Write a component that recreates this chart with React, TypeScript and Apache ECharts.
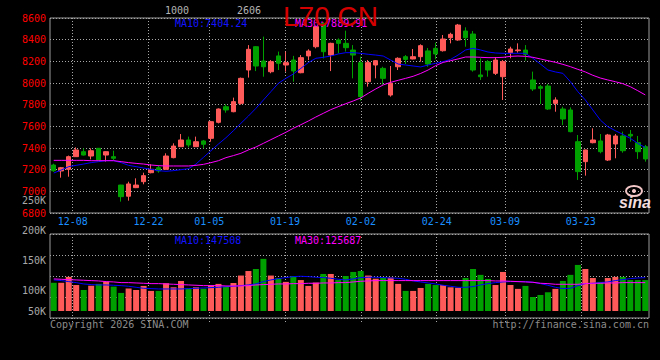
import React, { useEffect, useRef } from "react";
import * as echarts from "echarts";

const dates = [
  "12-03","12-04","12-05","12-08","12-09","12-10","12-11","12-12","12-15","12-16",
  "12-17","12-18","12-19","12-22","12-23","12-24","12-25","12-26","12-29","12-30",
  "12-31","01-05","01-06","01-07","01-08","01-09","01-12","01-13","01-14","01-15",
  "01-16","01-19","01-20","01-21","01-22","01-23","01-26","01-27","01-28","01-29",
  "01-30","02-02","02-03","02-04","02-05","02-06","02-09","02-10","02-11","02-12",
  "02-13","02-24","02-25","02-26","02-27","03-02","03-03","03-04","03-05","03-06",
  "03-09","03-10","03-11","03-12","03-13","03-16","03-17","03-18","03-19","03-20",
  "03-23","03-24","03-25","03-26","03-27","03-30","03-31","04-01","04-02","04-03",
];
const dateLabelIdx = [3, 13, 21, 31, 41, 51, 60, 70];

const opens = [
  7243,7188,7203,7320,7366,7326,7397,7335,7320,7058,6955,7034,7089,7172,7218,7203,7311,7412,7474,7412,
  7465,7489,7637,7781,7735,7812,8120,8335,8203,8104,8250,8166,8212,8095,8250,8335,8550,8258,8397,8366,
  8304,8188,8012,8166,8135,7889,8150,8243,8222,8243,8296,8320,8298,8418,8397,8480,8452,8074,8197,8089,
  8058,8280,8298,8304,8028,7966,7972,7812,7760,7751,7458,7274,7449,7465,7289,7437,7511,7526,7449,7412,
];
const closes = [
  7190,7218,7320,7382,7335,7375,7289,7366,7305,6951,7068,7058,7145,7203,7188,7326,7418,7474,7428,7458,
  7434,7643,7760,7751,7828,8043,8311,8157,8150,8197,8182,8188,8111,8234,8295,8520,8289,8366,8366,8326,
  8258,7874,8188,8206,8043,7997,8228,8218,8243,8345,8175,8268,8406,8449,8535,8418,8120,8058,8120,8212,
  8197,8314,8305,8264,7945,7951,7760,7843,7668,7551,7182,7382,7474,7366,7520,7511,7375,7511,7366,7299,
];
const lows = [
  7180,7126,7135,7318,7330,7295,7285,7274,7289,6905,6914,7030,7065,7166,7172,7200,7305,7410,7406,7410,
  7397,7458,7627,7726,7730,7800,8050,8110,8058,8090,8120,8105,8012,8090,8212,8320,8227,8110,8274,8290,
  8043,7837,7966,8043,7982,7874,8120,8175,8218,8197,8150,8219,8290,8366,8390,8335,8105,8028,8058,8074,
  7843,8228,8280,8206,7926,7806,7751,7735,7612,7545,7105,7145,7443,7351,7280,7305,7357,7458,7299,7274,
];
const highs = [
  7255,7225,7330,7406,7397,7397,7400,7370,7375,7060,7089,7120,7172,7249,7243,7351,7443,7529,7505,7505,
  7474,7650,7765,7803,7865,8050,8350,8341,8428,8212,8290,8290,8250,8258,8311,8530,8560,8372,8412,8483,
  8350,8243,8212,8212,8150,8157,8237,8258,8314,8357,8323,8372,8443,8464,8545,8514,8480,8228,8212,8240,
  8212,8335,8366,8350,8105,7982,7991,7868,7781,7775,7520,7385,7582,7529,7530,7529,7551,7566,7511,7428,
];
const ma10 = [
  7169,7197,7228,7240,7252,7265,7274,7283,7283,7265,7240,7228,7215,7203,7191,7185,7191,7200,7209,7252,
  7314,7375,7437,7495,7560,7628,7695,7766,7843,7920,7997,8043,8083,8135,8188,8228,8237,8249,8268,8280,
  8280,8274,8265,8258,8249,8212,8175,8166,8157,8148,8166,8182,8197,8218,8258,8305,8320,8305,8286,8277,
  8274,8274,8274,8274,8228,8175,8120,8102,8089,8012,7920,7843,7751,7658,7597,7560,7526,7489,7443,7404,
];
const ma30 = [
  7286,7286,7286,7286,7286,7283,7283,7283,7283,7274,7265,7258,7252,7243,7237,7234,7234,7234,7234,7240,
  7249,7265,7283,7311,7330,7351,7382,7409,7443,7477,7511,7545,7582,7615,7649,7686,7720,7754,7782,7809,
  7834,7862,7905,7945,7982,8006,8025,8043,8062,8088,8120,8160,8190,8206,8222,8240,8240,8237,8234,8234,
  8237,8246,8249,8246,8237,8222,8206,8191,8172,8151,8126,8102,8071,8046,8028,8012,7994,7966,7929,7890,
];
const volumes = [
  125000,125000,151000,115000,93000,112000,120000,130000,108000,80000,
  100000,93000,111000,89000,89000,123000,105000,133000,100000,105000,
  99000,114000,120000,108000,124000,157000,177000,186000,231000,157000,
  145000,129000,155000,137000,111000,126000,164000,164000,137000,155000,
  173000,177000,157000,143000,148000,148000,120000,89000,89000,102000,
  120000,115000,115000,105000,103000,146000,186000,160000,142000,115000,
  173000,115000,98000,111000,62000,71000,83000,98000,133000,160000,
  204000,186000,146000,129000,146000,151000,151000,137000,137000,137000,
];
const volMa10 = [
  137500,134600,130200,125700,119800,116900,115400,115400,113900,112400,
  109500,105000,100600,99100,97600,97600,97600,97600,99100,100600,
  102100,103600,105000,108000,109500,112400,115400,119800,130200,137500,
  143400,147900,152300,153800,152300,149400,147900,144900,140500,137500,
  142000,147900,149400,149400,147900,146400,144900,140500,133100,128700,
  124200,119800,113900,109500,105000,105000,108000,115400,121300,125700,
  128700,130200,130200,130200,127200,121300,113900,105000,99100,100600,
  112400,121300,122800,125700,128700,134600,139000,143400,146400,147508,
];
const volMa30 = [
  142000,140500,139000,137500,136100,134600,133100,130200,128700,125700,
  125700,124200,122800,121300,121300,119800,118300,116900,115400,113900,
  112400,112400,112400,110900,110900,110900,112400,115400,116900,118300,
  119800,119800,121300,121300,122800,122800,124200,124200,125700,125700,
  128700,131600,133100,134600,134600,134600,134600,134600,134600,134600,
  134600,134600,134600,134600,134600,134600,134600,134600,134600,133100,
  133100,131600,130200,128700,127200,122800,121300,118300,118300,118300,
  118300,121300,122800,122800,124200,124200,125700,125700,125700,125687,
];

const priceMin = 6800;
const priceMax = 8600;
const priceStep = 200;
const volLabelMin = 50000;
const volLabelMax = 250000;
const volLabelStep = 50000;
const volAxisMax = 341000;

const title = "L70 CN";
const topMarks = ["1000", "2606"];
const priceMa10Text = "MA10:7404.24";
const priceMa30Text = "MA30:7889.91";
const volMa10Text = "MA10:147508";
const volMa30Text = "MA30:125687";
const copyrightText = "Copyright 2026 SINA.COM";
const urlText = "http://finance.sina.com.cn";

const RED = "#ff5a5a";
const GREEN = "#00a000";
const MONO = '"DejaVu Sans Mono", monospace';
const DOT = { color: "#a8a8a8", type: [1, 2] as number[], width: 1 };

export default function App() {
  const ref = useRef<HTMLDivElement>(null);
  useEffect(() => {
    if (!ref.current) return;
    const chart = echarts.init(ref.current, undefined, { renderer: "svg" });
    const showIdx = (i: number) => dateLabelIdx.indexOf(i) >= 0;
    const txt = (text: string, x: number, y: number, fill: string, extra: any = {}) => ({
      type: "text",
      x,
      y,
      z: 100,
      silent: true,
      style: { text, fill, font: `10px ${MONO}`, verticalAlign: "middle", align: "left", ...extra },
    });
    const option: any = {
      animation: false,
      backgroundColor: "#000",
      grid: [
        { left: 50, right: 11, top: 18, height: 195, show: true, borderColor: "#9c9c9c", borderWidth: 1, backgroundColor: "transparent" },
        { left: 50, right: 11, top: 234, height: 84, show: true, borderColor: "#9c9c9c", borderWidth: 1, backgroundColor: "transparent" },
        { left: 50, right: 11, top: 234, height: 77 },
        { left: 50, right: 11, top: 200, height: 120 },
      ],
      xAxis: [
        { type: "category", gridIndex: 0, position: "top", data: dates, boundaryGap: true, show: false },
        {
          type: "category", gridIndex: 0, position: "bottom", data: dates, boundaryGap: false,
          axisLine: { show: false }, axisTick: { show: false },
          axisLabel: { interval: (i: number) => showIdx(i), color: "#1a8fff", fontFamily: MONO, fontSize: 10, margin: 3 },
          splitLine: { show: true, interval: (i: number) => showIdx(i), lineStyle: DOT },
        },
        {
          type: "category", gridIndex: 1, position: "bottom", data: dates, boundaryGap: false,
          axisLine: { show: false },
          axisTick: { show: true, interval: (i: number) => showIdx(i), length: 5, lineStyle: DOT },
          axisLabel: { show: false },
          splitLine: { show: true, interval: (i: number) => showIdx(i), lineStyle: DOT },
        },
        { type: "category", gridIndex: 2, data: dates, boundaryGap: true, show: false },
        { type: "category", gridIndex: 3, data: dates, show: false },
      ],
      yAxis: [
        {
          type: "value", gridIndex: 0, min: priceMin, max: priceMax, interval: priceStep,
          axisLine: { show: false }, axisTick: { show: false },
          axisLabel: { color: "#ff0000", fontFamily: MONO, fontSize: 10, margin: 4, formatter: (v: number) => String(v) },
          splitLine: { show: true, lineStyle: DOT },
        },
        {
          type: "value", gridIndex: 1, min: 0, max: 4, interval: 1,
          axisLine: { show: false }, axisTick: { show: false }, axisLabel: { show: false },
          splitLine: { show: true, lineStyle: DOT },
        },
        { type: "value", gridIndex: 2, min: 0, max: volAxisMax, show: false },
        {
          type: "value", gridIndex: 3, min: volLabelMin, max: volLabelMax, interval: volLabelStep,
          axisLine: { show: false }, axisTick: { show: false }, splitLine: { show: false },
          axisLabel: {
            color: "#a8a8a8", fontFamily: MONO, fontSize: 10, margin: 4,
            formatter: (v: number) => (v === volLabelMin ? `{lo|${v / 1000}K}` : `${v / 1000}K`),
            rich: { lo: { padding: [0, 0, 18, 0], color: "#a8a8a8", fontFamily: MONO, fontSize: 10 } },
          },
        },
      ],
      series: [
        {
          type: "candlestick", xAxisIndex: 0, yAxisIndex: 0, barWidth: 5, silent: true,
          data: opens.map((o, i) => [o, closes[i], lows[i], highs[i]]),
          itemStyle: { color: RED, color0: GREEN, borderColor: RED, borderColor0: GREEN, borderWidth: 1 },
        },
        { type: "line", xAxisIndex: 0, yAxisIndex: 0, data: ma10, symbol: "none", silent: true, lineStyle: { color: "#0000ff", width: 1 }, z: 5 },
        { type: "line", xAxisIndex: 0, yAxisIndex: 0, data: ma30, symbol: "none", silent: true, lineStyle: { color: "#ff00ff", width: 1 }, z: 5 },
        {
          type: "bar", xAxisIndex: 3, yAxisIndex: 2, barWidth: 6, silent: true,
          data: volumes.map((v, i) => ({ value: v, itemStyle: { color: closes[i] >= opens[i] ? RED : GREEN } })),
        },
        { type: "line", xAxisIndex: 3, yAxisIndex: 2, data: volMa10, symbol: "none", silent: true, lineStyle: { color: "#0000ff", width: 1 }, z: 5 },
        { type: "line", xAxisIndex: 3, yAxisIndex: 2, data: volMa30, symbol: "none", silent: true, lineStyle: { color: "#ff00ff", width: 1 }, z: 5 },
      ],
      graphic: [
        txt(topMarks[0], 165, 10, "#b4b4b4"),
        txt(topMarks[1], 237, 10, "#b4b4b4"),
        txt(priceMa10Text, 175, 23, "#1414ff"),
        txt(priceMa30Text, 295, 23, "#ff00ff"),
        txt(volMa10Text, 175, 240, "#1414ff"),
        txt(volMa30Text, 295, 240, "#ff00ff"),
        txt(copyrightText, 50, 324, "#8c8c8c"),
        txt(urlText, 649, 324, "#8c8c8c", { align: "right" }),
        {
          type: "text", x: 283, y: 16, z: 100, silent: true,
          style: { text: title, fill: "#d40000", font: '28px "Liberation Sans", sans-serif', verticalAlign: "middle", align: "left" },
        },
        {
          type: "ellipse", z: 100, silent: true,
          shape: { cx: 634, cy: 191, rx: 8, ry: 5 },
          style: { fill: "none", stroke: "#f2c6c6", lineWidth: 2 },
        },
        {
          type: "circle", z: 100, silent: true,
          shape: { cx: 634, cy: 191, r: 2 },
          style: { fill: "#f2c6c6" },
        },
        {
          type: "text", x: 619, y: 202, z: 100, silent: true,
          style: { text: "sina", fill: "#f3dede", font: 'italic bold 16px "Liberation Sans", sans-serif', verticalAlign: "middle", align: "left" },
        },
      ],
    };
    chart.setOption(option);
    return () => chart.dispose();
  }, []);
  return (
    <div
      ref={ref}
      style={{ position: "fixed", left: 0, top: 0, width: 660, height: 360, background: "#000" }}
    />
  );
}
